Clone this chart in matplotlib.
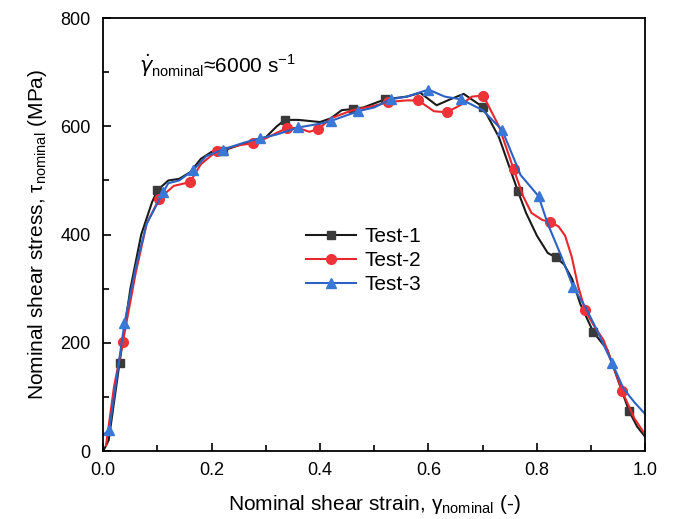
import matplotlib.pyplot as plt
from matplotlib.ticker import MultipleLocator

plt.rcParams['font.family'] = ['Liberation Sans', 'DejaVu Sans']

# Test-1 (black squares)
x1 = [0.0, 0.01, 0.03, 0.05, 0.07, 0.09, 0.10, 0.12, 0.14, 0.16, 0.18, 0.20, 0.22, 0.25,
      0.28, 0.30, 0.32, 0.335, 0.36, 0.40, 0.42, 0.44, 0.46, 0.48, 0.52, 0.56, 0.585, 0.615,
      0.64, 0.665, 0.70, 0.73, 0.765, 0.78, 0.80, 0.82, 0.835, 0.85, 0.865, 0.88, 0.904, 0.93,
      0.95, 0.97, 0.985, 1.0]
y1 = [0, 20, 163, 300, 400, 460, 482, 500, 503, 515, 540, 553, 555, 565,
      575, 580, 600, 612, 612, 608, 615, 630, 632, 635, 650, 655, 662, 639,
      650, 660, 636, 580, 480, 440, 398, 366, 358, 345, 318, 272, 220, 187,
      130, 74, 45, 26]
m1 = [2, 6, 12, 17, 22, 24, 30, 32, 36, 40, 43]

# Test-2 (red circles)
x2 = [0.005, 0.02, 0.036, 0.06, 0.08, 0.103, 0.13, 0.16, 0.18, 0.21, 0.25, 0.277, 0.30,
      0.32, 0.339, 0.36, 0.38, 0.397, 0.42, 0.46, 0.50, 0.525, 0.56, 0.581, 0.61, 0.634,
      0.66, 0.68, 0.701, 0.73, 0.757, 0.775, 0.79, 0.81, 0.825, 0.84, 0.852, 0.864, 0.876,
      0.889, 0.905, 0.923, 0.94, 0.957, 0.98, 1.0]
y2 = [10, 120, 201, 330, 420, 466, 490, 497, 530, 555, 565, 569, 578,
      588, 597, 597, 590, 595, 615, 630, 638, 645, 648, 648, 628, 626,
      640, 655, 657, 600, 521, 470, 440, 427, 423, 415, 398, 360, 305,
      260, 232, 205, 160, 111, 60, 30]
m2 = [2, 5, 7, 9, 11, 14, 17, 21, 23, 25, 28, 30, 34, 39, 43]

# Test-3 (blue triangles)
x3 = [0.0, 0.011, 0.039, 0.06, 0.08, 0.111, 0.12, 0.14, 0.166, 0.19, 0.22, 0.26, 0.29,
      0.32, 0.36, 0.40, 0.42, 0.47, 0.50, 0.53, 0.56, 0.60, 0.63, 0.66, 0.70, 0.736, 0.77,
      0.803, 0.82, 0.845, 0.867, 0.89, 0.91, 0.939, 0.96, 0.98, 1.0]
y3 = [30, 39, 236, 340, 420, 479, 495, 500, 519, 545, 557, 570, 578,
      585, 598, 605, 610, 628, 635, 650, 655, 668, 655, 650, 630, 593, 510,
      471, 420, 360, 303, 265, 225, 162, 115, 90, 68]
m3 = [1, 2, 5, 8, 10, 12, 14, 16, 17, 19, 21, 23, 25, 27, 30, 33]

fig = plt.figure(figsize=(6.75, 5.19), dpi=100)
ax = fig.add_axes([0.153, 0.131, 0.803, 0.834])

ax.plot(x1, y1, color='#1a1a1a', lw=1.5, marker='s', ms=6, markevery=m1,
        mfc='#3a3a3a', mec='#3a3a3a', label='Test-1')
ax.plot(x2, y2, color='#e8262b', lw=1.5, marker='o', ms=7, markevery=m2,
        mfc='#ee3338', mec='#ee3338', label='Test-2')
ax.plot(x3, y3, color='#2b62c4', lw=1.5, marker='^', ms=7, markevery=m3,
        mfc='#3a78d8', mec='#3a78d8', label='Test-3')

ax.set_xlim(0, 1.0)
ax.set_ylim(0, 800)
ax.xaxis.set_major_locator(MultipleLocator(0.2))
ax.xaxis.set_minor_locator(MultipleLocator(0.1))
ax.yaxis.set_major_locator(MultipleLocator(200))
ax.yaxis.set_minor_locator(MultipleLocator(100))
ax.tick_params(which='both', direction='in', top=False, right=False, labelsize=13)
ax.tick_params(which='major', length=6, width=1.2)
ax.tick_params(which='minor', length=4, width=1.2)
ax.tick_params(axis='x', pad=8)
ax.tick_params(axis='y', pad=9)
for s in ax.spines.values():
    s.set_linewidth(1.3)

ax.set_xlabel('Nominal shear strain, \u03b3$_{\\mathregular{nominal}}$ (-)', fontsize=15, labelpad=10)
ax.set_ylabel('Nominal shear stress, \u03c4$_{\\mathregular{nominal}}$ (MPa)', fontsize=15, labelpad=8)

ax.text(0.065, 712, '$\\dot{\\gamma}_{\\mathregular{nominal}}$\u22486000 s$^{\\mathregular{-1}}$',
        fontsize=15, va='center')

ax.legend(loc='center', bbox_to_anchor=(0.48, 0.44), frameon=False, fontsize=15,
          handlelength=2.4, handletextpad=0.4, labelspacing=0.25)

fig.savefig('out.png', dpi=100)
